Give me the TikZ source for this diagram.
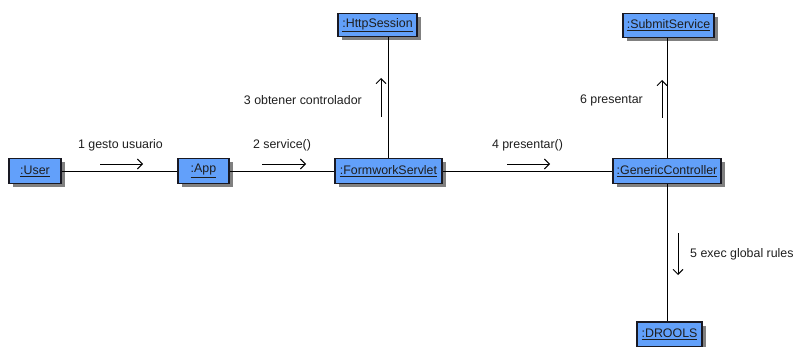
\documentclass[tikz,border=0pt]{standalone}
\usepackage{fontspec}
\setmainfont{Liberation Sans}
\usetikzlibrary{arrows.meta}
\definecolor{objfill}{RGB}{98,160,250}
\definecolor{objline}{RGB}{25,25,35}
\definecolor{shadowgray}{RGB}{128,128,128}
\definecolor{txt}{RGB}{30,30,30}
\tikzset{
  obj/.style={draw=objline, line width=1.3pt, fill=objfill, inner sep=0pt,
    minimum height=#1, font=\fontsize{12.4}{14}\selectfont, text=txt,
    preaction={fill=shadowgray, transform canvas={xshift=3.5pt, yshift=-3.5pt}}},
  obj/.default=25pt,
  link/.style={draw=black, line width=0.9pt},
  msg/.style={draw=black, line width=0.9pt, -{Straight Barb[length=5pt, width=10pt, line width=0.9pt]}},
  lbl/.style={font=\fontsize{12.4}{14}\selectfont, text=txt, inner sep=0pt}
}
\newcommand{\objname}[1]{\underline{#1}}
\begin{document}
\begin{tikzpicture}[x=1pt, y=-1pt]
\useasboundingbox (0,0) rectangle (794,347);
\clip (0,0) rectangle (794,347);

% objects
\node[obj, minimum width=52pt] (user) at (35,171) {\objname{:User}};
\node[obj, minimum width=51pt] (app) at (203.5,171) {\objname{:App}};
\node[obj, minimum width=107pt] (servlet) at (388.5,171) {\objname{:FormworkServlet}};
\node[obj, minimum width=108pt] (ctrl) at (667,171) {\objname{:GenericController}};
\node[obj=23pt, minimum width=79pt] (session) at (377.5,25) {\objname{:HttpSession}};
\node[obj=24pt, minimum width=91pt] (submit) at (668.5,25.5) {\objname{:SubmitService}};
\node[obj=25pt, minimum width=65pt] (drools) at (669.5,334.5) {\objname{:DROOLS}};

% links
\draw[link] (user) -- (app);
\draw[link] (app) -- (servlet);
\draw[link] (servlet) -- (ctrl);
\draw[link] (servlet.north) -- (servlet.north |- session.south);
\draw[link] (ctrl.north) -- (ctrl.north |- submit.south);
\draw[link] (ctrl.south) -- (ctrl.south |- drools.north);

% messages
\coordinate (m1a) at (100,164); \coordinate (m1b) at (143,164);
\draw[msg] (m1a) -- (m1b);
\node[lbl] (l1) at (120.5,145) {1 gesto usuario};

\coordinate (m2a) at (262,164); \coordinate (m2b) at (306,164);
\draw[msg] (m2a) -- (m2b);
\node[lbl] (l2) at (282,145) {2 service()};

\coordinate (m3a) at (381,117); \coordinate (m3b) at (381,78);
\draw[msg] (m3a) -- (m3b);
\node[lbl, anchor=east] (l3) at (362,100) {3 obtener controlador};

\coordinate (m4a) at (507,164); \coordinate (m4b) at (550,164);
\draw[msg] (m4a) -- (m4b);
\node[lbl] (l4) at (527.5,145) {4 presentar()};

\coordinate (m5a) at (678,233); \coordinate (m5b) at (678,275);
\draw[msg] (m5a) -- (m5b);
\node[lbl, anchor=west] (l5) at (690,254) {5 exec global rules};

\coordinate (m6a) at (662,118); \coordinate (m6b) at (662,80);
\draw[msg] (m6a) -- (m6b);
\node[lbl, anchor=east] (l6) at (643,100) {6 presentar};
\end{tikzpicture}
\end{document}
